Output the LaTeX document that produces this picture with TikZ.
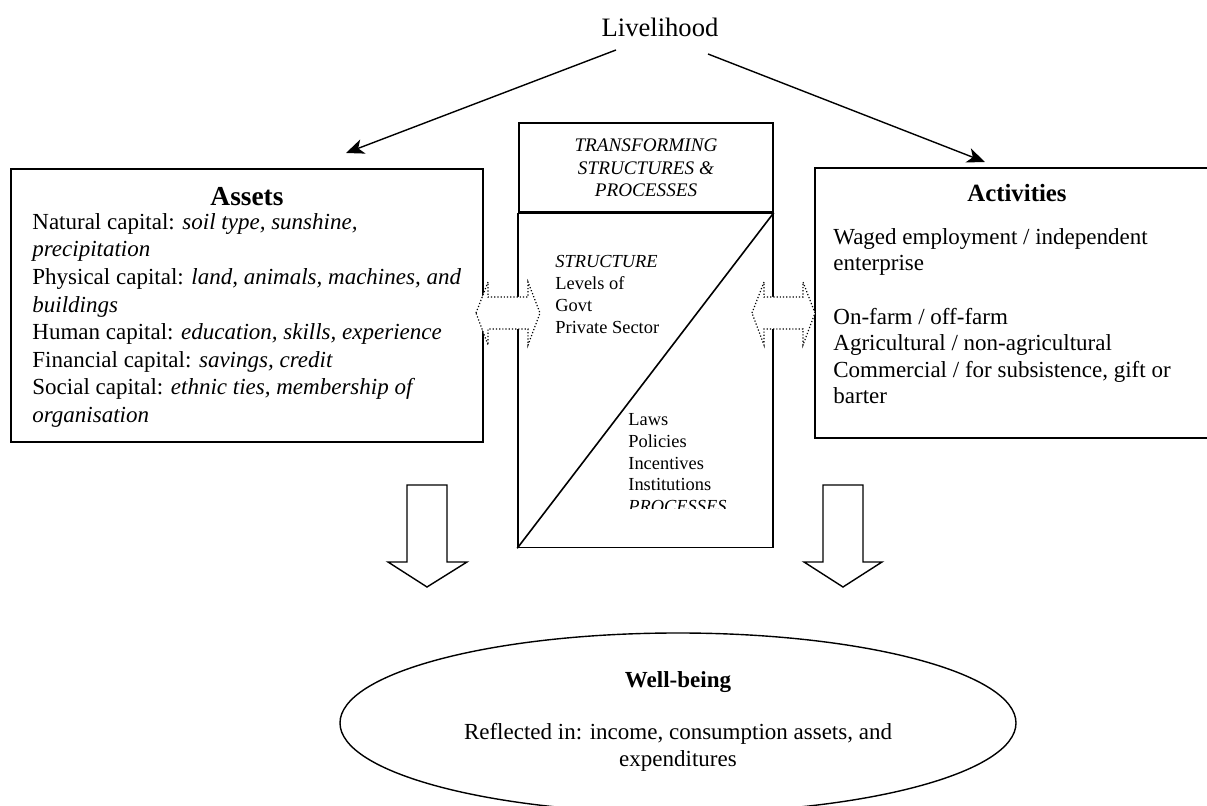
\documentclass[tikz,border=0pt]{standalone}
\usepackage{fontspec}
\setmainfont{Liberation Serif}
\usetikzlibrary{arrows.meta,shapes.geometric}
\begin{document}
\begin{tikzpicture}[x=0.5pt,y=-0.5pt,
  box/.style={draw,line width=0.8pt,minimum width=#1,inner sep=0pt},
  body/.style={align=left,inner sep=0pt,anchor=north west},
  conn/.style={line width=0.7pt,-{Stealth[length=9pt,width=7.5pt,inset=2.5pt]}},
  dbl/.style={draw,densely dotted,line width=0.6pt,fill=white},
  down/.style={draw,line width=0.7pt,fill=white}]
\useasboundingbox (0,0) rectangle (1207,806);
\begin{scope}
\clip (0,0) rectangle (1207,806);
% title and arrows
\node[font=\fontsize{13.3}{16}\selectfont,inner sep=0pt] (liv) at (660,27) {Livelihood};
\coordinate (livL) at (616,50);
\coordinate (livR) at (708,54);
\coordinate (assetsTip) at (346,153);
\coordinate (actTip) at (985,162);
\draw[conn] (livL) -- (assetsTip);
\draw[conn] (livR) -- (actTip);
% assets box
\node[box=236pt,minimum height=136.5pt] (assets) at (247,305.5) {};
\node[font=\bfseries\fontsize{13.7}{16}\selectfont,inner sep=0pt] (assetsT) at (247,197) {Assets};
\node[body,font=\fontsize{11.5}{13.8}\selectfont] (assetsB) at (32,213) {%
Natural capital: \textit{soil type, sunshine,}\\
\textit{precipitation}\\
Physical capital: \textit{land, animals, machines, and}\\
\textit{buildings}\\
Human capital: \textit{education, skills, experience}\\
Financial capital: \textit{savings, credit}\\
Social capital: \textit{ethnic ties, membership of}\\
\textit{organisation}};
% activities box (open to the right edge)
\node[box=202.5pt,minimum height=135pt] (act) at (1017.5,303) {};
\node[font=\bfseries\fontsize{12.4}{15}\selectfont,inner sep=0pt] (actT) at (1017,193) {Activities};
\node[body,font=\fontsize{11.5}{13.3}\selectfont] (actB) at (833,228) {%
Waged employment / independent\\
enterprise\\[13.3pt]
On-farm / off-farm\\
Agricultural / non-agricultural\\
Commercial / for subsistence, gift or\\
barter};
% central boxes
\node[box=127pt,minimum height=44.5pt] (tsp) at (646,167.5) {};
\node[align=center,inner sep=0pt,font=\itshape\fontsize{9.6}{11.25}\selectfont] (tspT) at (646,168) {TRANSFORMING\\STRUCTURES \&\\PROCESSES};
\node[box=127.5pt,minimum height=167pt] (sp) at (645.5,380.5) {};
\draw[line width=0.8pt] (sp.south west) -- (sp.north east);
\node[body,font=\fontsize{9.2}{11}\selectfont] (structT) at (555,255) {%
\textit{STRUCTURE}\\Levels of\\Govt\\Private Sector};
\begin{scope}
\clip (518,213) rectangle (773,509);
\node[body,font=\fontsize{9.2}{10.9}\selectfont] (procT) at (628,413) {%
Laws\\Policies\\Incentives\\Institutions\\\textit{PROCESSES}};
\end{scope}
% double arrows
\draw[dbl] (476,313) -- (488,282) -- (488,297) -- (528,297) -- (528,282) -- (540,313)
  -- (528,345) -- (528,329) -- (488,329) -- (488,345) -- cycle;
\draw[dbl] (752,313) -- (764,282) -- (764,297) -- (803,297) -- (803,282) -- (815,313)
  -- (803,345) -- (803,329) -- (764,329) -- (764,345) -- cycle;
% down arrows
\draw[down] (407,485) -- (447,485) -- (447,562) -- (467,562) -- (427,587) -- (388,562) -- (407,562) -- cycle;
\draw[down] (823,485) -- (863,485) -- (863,562) -- (882,562) -- (843,587) -- (804,562) -- (823,562) -- cycle;
% well-being ellipse
\node[ellipse,draw,line width=0.7pt,minimum width=338pt,minimum height=90pt,inner sep=0pt] (wb) at (678,723) {};
\node[font=\bfseries\fontsize{11.5}{13.5}\selectfont,inner sep=0pt] (wbT) at (678,682) {Well-being};
\node[align=center,inner sep=0pt,font=\fontsize{11.5}{13.5}\selectfont] (wbB) at (678,747) {Reflected in: income, consumption assets, and\\expenditures};
\end{scope}
\end{tikzpicture}
\end{document}
